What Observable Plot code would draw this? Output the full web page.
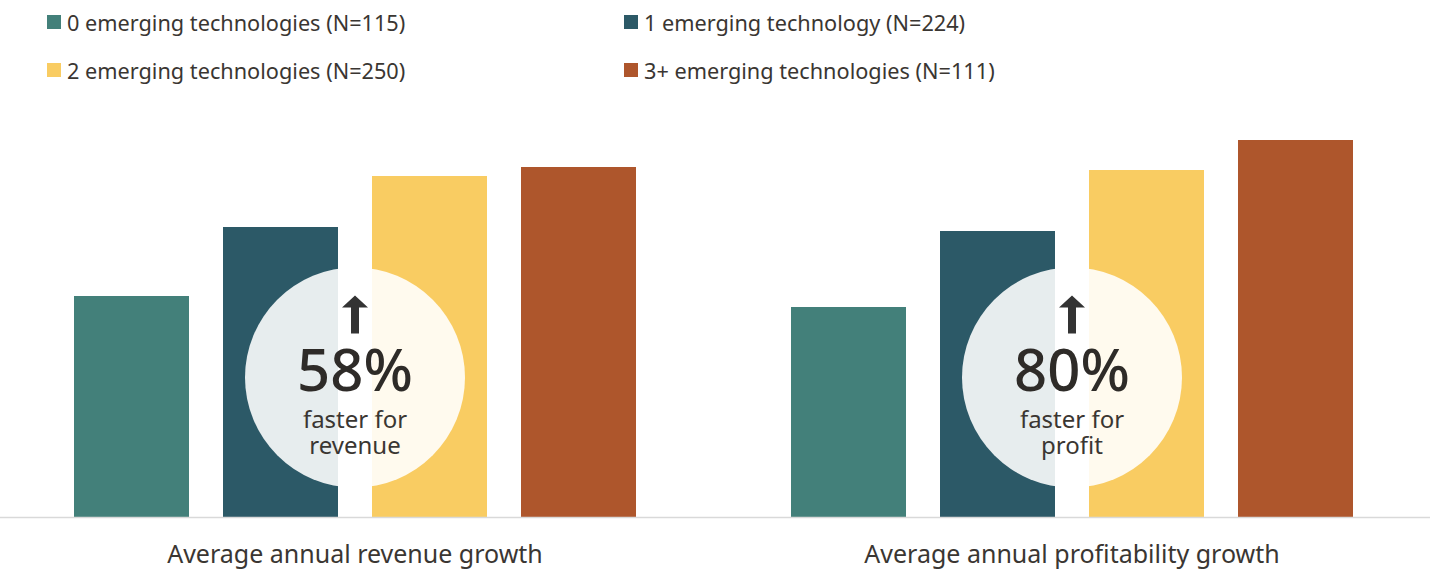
<!DOCTYPE html>
<html>
<head>
<meta charset="utf-8">
<script src="https://cdn.jsdelivr.net/npm/d3@7"></script>
<script src="https://cdn.jsdelivr.net/npm/@observablehq/plot@0.6"></script>
<style>
  html, body { margin: 0; padding: 0; background: #fff; }
  body { width: 1434px; height: 572px; overflow: hidden; font-family: "Noto Sans", sans-serif; color: #3a3632; }
  #legend { height: 92px; box-sizing: border-box; padding-left: 47px; display: grid; grid-template-columns: 577px 600px; grid-auto-rows: 44px; row-gap: 4px; }
  .item { display: flex; align-items: center; font-size: 21.7px; white-space: nowrap; }
  .sw { width: 14px; height: 14px; margin-right: 6px; flex: none; }
  #chart svg { display: block; }
</style>
</head>
<body>
<div id="legend"></div>
<div id="chart"></div>
<script>
// Categories (series)
const categories = [
  "0 emerging technologies (N=115)",
  "1 emerging technology (N=224)",
  "2 emerging technologies (N=250)",
  "3+ emerging technologies (N=111)"
];
const colors = ["#43807a", "#2c5967", "#f9cc62", "#ae562c"];
// Metrics (groups)
const metrics = ["Average annual revenue growth", "Average annual profitability growth"];
// Relative bar heights
const revenueValues = [22.1, 29.0, 34.1, 35.0];
const profitValues = [21.0, 28.6, 34.7, 37.7];
// Callouts
const calloutPct = ["58%", "80%"];
const calloutText = ["faster for\nrevenue", "faster for\nprofit"];
const calloutCenter = [14.0, 14.0];
const arrowBase = [18.4, 18.4];

const data = [];
categories.forEach((c, i) => {
  data.push({metric: metrics[0], category: c, value: revenueValues[i]});
  data.push({metric: metrics[1], category: c, value: profitValues[i]});
});
const callouts = metrics.map((m, i) => ({metric: m, pct: calloutPct[i], text: calloutText[i], cy: calloutCenter[i], ay: arrowBase[i]}));

// Legend
const legend = document.getElementById("legend");
categories.forEach((c, i) => {
  const d = document.createElement("div");
  d.className = "item";
  d.innerHTML = `<span class="sw" style="background:${colors[i]}"></span><span>${c}</span>`;
  legend.appendChild(d);
});

const arrowShape = {
  draw(context, l) {
    const hw = 13, sw = 4, hh = 12;
    context.moveTo(-sw, 0);
    context.lineTo(-sw, -(l - hh));
    context.lineTo(-hw, -(l - hh));
    context.lineTo(0, -l);
    context.lineTo(hw, -(l - hh));
    context.lineTo(sw, -(l - hh));
    context.lineTo(sw, 0);
    context.closePath();
  }
};

const chart = Plot.plot({
  width: 1434,
  height: 480,
  marginTop: 25,
  marginBottom: 55,
  marginLeft: -4,
  marginRight: 4,
  style: {fontFamily: "Noto Sans", color: "#3a3632", background: "white"},
  fx: {domain: metrics, padding: 0, label: null},
  x: {domain: categories, paddingInner: 0.23, paddingOuter: 0.515, axis: null},
  y: {domain: [0, 40], axis: null},
  color: {domain: categories, range: colors},
  marks: [
    Plot.axisFx({anchor: "bottom", tickSize: 0, tickPadding: 28, fontSize: 25, label: null}),
    Plot.barY(data, {fx: "metric", x: "category", y: "value", fill: "category"}),
    Plot.ruleY([0], {stroke: "#d9d9d9", strokeWidth: 1.5}),
    Plot.dot(callouts, {fx: "metric", y: "cy", r: 110, fill: "white", fillOpacity: 0.89, stroke: "none"}),
    Plot.vector(callouts, {fx: "metric", y: "ay", length: 38, anchor: "start", shape: arrowShape, fill: "#333", stroke: "none"}),
    Plot.text(callouts, {fx: "metric", y: "cy", text: "pct", fontSize: 58, fontWeight: 500, dy: -5, fill: "#2e2b28"}),
    Plot.text(callouts, {fx: "metric", y: "cy", text: "text", fontSize: 24, lineHeight: 1.08, dy: 55, fill: "#3a3632"})
  ]
});
document.getElementById("chart").appendChild(chart);
</script>
</body>
</html>
